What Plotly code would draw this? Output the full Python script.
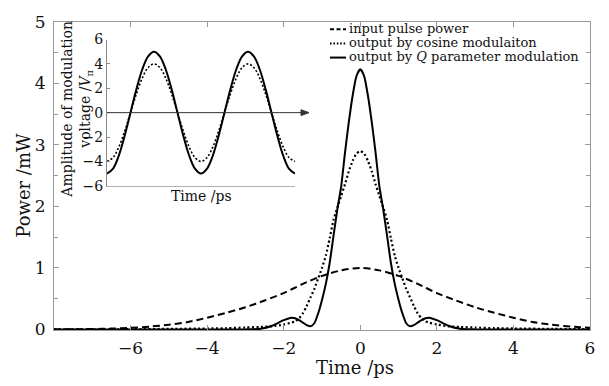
import plotly.graph_objects as go

# ---------------- data ----------------
t_in = [-8, -7.5, -7, -6.5, -6, -5.5, -5, -4.5, -4, -3.5, -3, -2.5, -2, -1.5, -1, -0.5, 0,
        0.5, 1, 1.5, 2, 2.5, 3, 3.5, 4, 4.5, 5, 5.5, 6]
p_in = [0.0, 0.002, 0.006, 0.013, 0.025, 0.045, 0.075, 0.12, 0.19, 0.27, 0.36, 0.47, 0.59, 0.74, 0.87, 0.96, 1.0,
        0.96, 0.87, 0.74, 0.59, 0.47, 0.36, 0.27, 0.19, 0.12, 0.075, 0.045, 0.025]

t_out = [-8, -6, -5, -4, -3.5, -3, -2.6, -2.3, -2, -1.8, -1.7, -1.6, -1.5, -1.4, -1.3, -1.2, -1.1, -1,
         -0.9, -0.8, -0.7, -0.6, -0.5, -0.4, -0.3, -0.2, -0.1, 0,
         0.1, 0.2, 0.3, 0.4, 0.5, 0.6, 0.7, 0.8, 0.9,
         1, 1.1, 1.2, 1.3, 1.4, 1.5, 1.6, 1.7, 1.8, 2, 2.3, 2.6, 3, 3.5, 4, 5, 6]
p_cos = [0.0, 0.003, 0.008, 0.015, 0.02, 0.03, 0.04, 0.05, 0.08, 0.11, 0.13, 0.18, 0.26, 0.38, 0.52, 0.66, 0.83, 1.0,
         1.2, 1.48, 1.78, 1.98, 2.17, 2.36, 2.57, 2.74, 2.86, 2.9,
         2.86, 2.74, 2.57, 2.36, 2.17, 1.98, 1.78, 1.48, 1.2,
         1.0, 0.83, 0.66, 0.52, 0.38, 0.26, 0.18, 0.13, 0.11, 0.08, 0.05, 0.04, 0.03, 0.02, 0.015, 0.008, 0.003]
p_q = [0.0, 0.0, 0.0, 0.0, 0.0, 0.0, 0.01, 0.06, 0.15, 0.19, 0.18, 0.15, 0.11, 0.07, 0.05, 0.1, 0.26, 0.48,
       0.74, 1.08, 1.52, 1.95, 2.32, 2.87, 3.37, 3.8, 4.12, 4.23,
       4.12, 3.8, 3.37, 2.87, 2.32, 1.95, 1.52, 1.08, 0.74,
       0.48, 0.26, 0.1, 0.05, 0.07, 0.11, 0.15, 0.18, 0.19, 0.15, 0.06, 0.01, 0.0, 0.0, 0.0, 0.0, 0.0]

x_ticks = [-6, -4, -2, 0, 2, 4, 6]

# inset: modulation voltage amplitude
t_ins = [0, 0.0625, 0.125, 0.1875, 0.25, 0.3125, 0.375, 0.4375, 0.5, 0.5625, 0.625, 0.6875, 0.75, 0.8125, 0.875, 0.9375,
         1, 1.0625, 1.125, 1.1875, 1.25, 1.3125, 1.375, 1.4375, 1.5, 1.5625, 1.625, 1.6875, 1.75, 1.8125, 1.875, 1.9375, 2]
v_q = [-5, -4.62, -3.54, -1.91, 0, 1.91, 3.54, 4.62, 5, 4.62, 3.54, 1.91, 0, -1.91, -3.54, -4.62,
       -5, -4.62, -3.54, -1.91, 0, 1.91, 3.54, 4.62, 5, 4.62, 3.54, 1.91, 0, -1.91, -3.54, -4.62, -5]
v_cos = [-4, -3.7, -2.83, -1.53, 0, 1.53, 2.83, 3.7, 4, 3.7, 2.83, 1.53, 0, -1.53, -2.83, -3.7,
         -4, -3.7, -2.83, -1.53, 0, 1.53, 2.83, 3.7, 4, 3.7, 2.83, 1.53, 0, -1.53, -2.83, -3.7, -4]
inset_y_ticks = [-6, -4, -2, 0, 2, 4, 6]

legend_names = ["input pulse power", "output by cosine modulaiton", "output by <i>Q</i> parameter modulation"]

# ---------------- layout helpers ----------------
W, H = 609, 386
L, R, T, B = 54, 19, 14, 56
PW, PH = W - L - R, H - T - B
FONT = "DejaVu Serif"


def px(x):
    return (x - L) / PW


def py(y):
    return (H - B - y) / PH


fig = go.Figure()
fig.add_trace(go.Scatter(x=t_in, y=p_in, mode="lines", line=dict(color="black", width=2, dash="7px,4px", shape="spline", smoothing=0.8),
                         showlegend=False))
fig.add_trace(go.Scatter(x=t_out, y=p_cos, mode="lines", line=dict(color="black", width=2.2, dash="2px,2.5px", shape="spline", smoothing=0.6),
                         showlegend=False))
fig.add_trace(go.Scatter(x=t_out, y=p_q, mode="lines", line=dict(color="black", width=2, shape="spline", smoothing=0.6),
                         showlegend=False))

fig.add_trace(go.Scatter(x=t_ins, y=v_cos, xaxis="x2", yaxis="y2", mode="lines",
                         line=dict(color="black", width=1.6, dash="2px,2px", shape="spline"), showlegend=False))
fig.add_trace(go.Scatter(x=t_ins, y=v_q, xaxis="x2", yaxis="y2", mode="lines",
                         line=dict(color="black", width=2, shape="spline"), showlegend=False))

axis_gray = "#999999"
fig.update_layout(
    width=W, height=H, margin=dict(l=L, r=R, t=T, b=B),
    paper_bgcolor="white", plot_bgcolor="white",
    font=dict(family=FONT, color="#111111"),
    xaxis=dict(domain=[0, 1], range=[-8, 6], tickvals=x_ticks, showline=True, mirror="ticks",
               linecolor=axis_gray, linewidth=1, ticks="inside", ticklen=5, tickcolor=axis_gray,
               showgrid=False, zeroline=False, tickfont=dict(size=17), ticklabelstandoff=3),
    yaxis=dict(domain=[0, 1], range=[-0.01, 5], tickvals=[0, 1, 2, 3, 4, 5], showline=True, mirror="ticks",
               linecolor=axis_gray, linewidth=1, ticks="inside", ticklen=5, tickcolor=axis_gray,
               minor=dict(tickvals=[0.5, 1.5, 2.5, 3.5, 4.5], ticks="inside", ticklen=4, tickcolor=axis_gray),
               showgrid=False, zeroline=False, tickfont=dict(size=17), ticklabelstandoff=4),
    xaxis2=dict(domain=[px(107), px(295)], anchor="y2", range=[0, 2], showticklabels=False, showline=True,
                linecolor="#b0b0b0", ticks="", showgrid=False, zeroline=False),
    yaxis2=dict(domain=[py(182), py(32)], anchor="x2", range=[-6, 6], tickvals=inset_y_ticks, showline=True,
                linecolor="#888888", ticks="inside", ticklen=3, tickcolor="#888888", showgrid=False,
                zeroline=False, tickfont=dict(size=14), ticklabelstandoff=0),
)

ann = []
# axis titles
ann.append(dict(text="Time /ps", x=px(355), y=py(368), xref="paper", yref="paper", showarrow=False,
                xanchor="center", yanchor="middle", font=dict(size=18)))
ann.append(dict(text="Power /mW", x=px(24), y=py(182), xref="paper", yref="paper", showarrow=False,
                textangle=-90, xanchor="center", yanchor="middle", font=dict(size=18)))
ann.append(dict(text="Time /ps", x=px(201), y=py(193), xref="paper", yref="paper", showarrow=False,
                xanchor="center", yanchor="middle", font=dict(size=14)))
ann.append(dict(text="Amplitude of modulation<br>voltage /<i>V</i><sub>π</sub>", x=px(77), y=py(104),
                xref="paper", yref="paper", showarrow=False, textangle=-90, xanchor="center", yanchor="middle",
                font=dict(size=14)))

# inset zero line with arrow head (decoration)
y0p = py(107)
fig.add_shape(type="line", xref="paper", yref="paper", x0=px(107), x1=px(305), y0=y0p, y1=y0p,
              line=dict(color="#333333", width=1))
ax0, ax1 = px(301), px(309)
dy = 3 / PH
fig.add_shape(type="path", xref="paper", yref="paper",
              path=f"M {ax0} {y0p + dy} L {ax1} {y0p} L {ax0} {y0p - dy} Z",
              fillcolor="#333333", line=dict(color="#333333", width=1))

# legend
leg_y = [20.5, 35, 49.5]
dashes = ["4px,2.5px", "1.6px,1.8px", "solid"]
for name, yy, d in zip(legend_names, leg_y, dashes):
    ann.append(dict(text=name, x=px(347), y=py(yy), xref="paper", yref="paper", showarrow=False,
                    xanchor="left", yanchor="middle", font=dict(size=13)))
    fig.add_shape(type="line", xref="paper", yref="paper", x0=px(330), x1=px(346), y0=py(yy + 1), y1=py(yy + 1),
                  line=dict(color="black", width=2, dash=d))
fig.update_layout(annotations=ann)

fig.write_html("out.html")
